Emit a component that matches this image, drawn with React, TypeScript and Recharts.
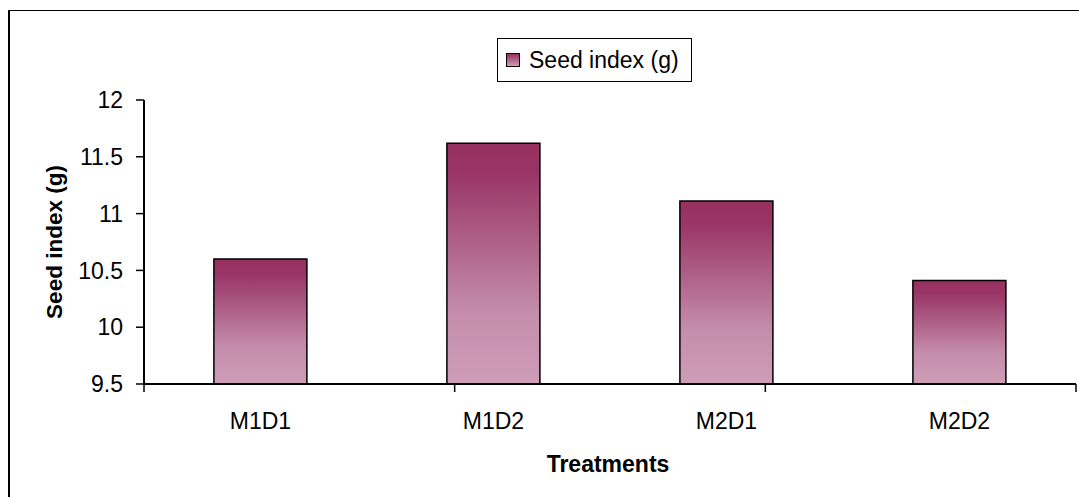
import { BarChart, Bar, XAxis, YAxis, Legend } from 'recharts'

const treatments = ['M1D1', 'M1D2', 'M2D1', 'M2D2']
const seedIndex = [10.6, 11.62, 11.11, 10.41]
const yTicks = [9.5, 10, 10.5, 11, 11.5, 12]
const edgeTicks = [0, 1, 2, 3, 4]

const data = treatments.map((name, i) => ({ name, seed: seedIndex[i] }))

const FONT = '"Liberation Sans", Arial, sans-serif'
const chartMargin = { top: 100, right: 3, bottom: 0, left: 0 }
const tickStyle = { fontSize: 23, fill: '#000', fontFamily: FONT }
const axisLineStyle = { stroke: '#000', strokeWidth: 2 }
const tickLineStyle = { stroke: '#000', strokeWidth: 1.5 }
const blankTick = () => ''

const legendWrap = {
  position: 'absolute' as const, left: 497, top: 38, width: 195, height: 44,
}

function renderLegend() {
  return (
    <div style={{
      display: 'flex', alignItems: 'center', boxSizing: 'border-box',
      width: 195, height: 44, border: '1.5px solid #000', background: '#fff',
      paddingLeft: 8, fontFamily: FONT, fontSize: 23, color: '#000',
    }}>
      <span style={{
        display: 'inline-block', width: 14, height: 14, boxSizing: 'border-box',
        border: '1.5px solid #000', marginRight: 9,
        background: 'linear-gradient(#96305f, #cf9db8)',
      }} />
      <span>Seed index (g)</span>
    </div>
  )
}

function renderYTitle(props: any) {
  const vb = props.viewBox
  const x = vb.x + 62
  const y = vb.y + vb.height / 2
  return (
    <text x={x} y={y} textAnchor="middle" transform={`rotate(-90, ${x}, ${y})`}
      fontFamily={FONT} fontSize={22.5} fontWeight="bold" fill="#000">
      Seed index (g)
    </text>
  )
}

function renderXTitle(props: any) {
  const vb = props.viewBox
  return (
    <text x={vb.x + vb.width / 2 - 2} y={vb.y + 86.5} textAnchor="middle"
      fontFamily={FONT} fontSize={23} fontWeight="bold" fill="#000">
      Treatments
    </text>
  )
}

export default function App() {
  return (
    <div style={{
      position: 'absolute', left: 0, top: 0, width: 1079, height: 497,
      overflow: 'hidden', background: '#fff', fontFamily: FONT,
    }}>
      <div style={{
        position: 'absolute', left: 8, top: 10, width: 1200, height: 600,
        borderLeft: '2px solid #000', borderTop: '1.5px solid #000',
      }} />
      <div style={{ position: 'absolute', left: 0, top: 0 }}>
        <BarChart width={1079} height={497} data={data} margin={chartMargin}
          barCategoryGap="30%">
          <defs>
            <linearGradient id="plumFade" x1="0" y1="0" x2="0" y2="1">
              <stop offset="0" stopColor="#96305f" />
              <stop offset="0.12" stopColor="#993566" />
              <stop offset="0.7" stopColor="#c48dab" />
              <stop offset="1" stopColor="#cf9db8" />
            </linearGradient>
          </defs>
          <XAxis xAxisId="zcat" dataKey="name" height={112} tick={tickStyle}
            axisLine={false} tickLine={false} tickSize={0} tickMargin={28}
            label={renderXTitle} />
          <XAxis xAxisId="bound" type="number" domain={[0, treatments.length]}
            ticks={edgeTicks} tickFormatter={blankTick} height={1} tickSize={8}
            interval={0} axisLine={axisLineStyle} tickLine={tickLineStyle} />
          <YAxis domain={[9.5, 12]} ticks={yTicks} width={144} tick={tickStyle}
            tickSize={8} tickMargin={13} axisLine={axisLineStyle}
            tickLine={tickLineStyle} label={renderYTitle} />
          <Legend layout="horizontal" verticalAlign="middle" align="center"
            wrapperStyle={legendWrap} content={renderLegend} />
          <Bar xAxisId="zcat" dataKey="seed" name="Seed index (g)"
            fill="url(#plumFade)" stroke="#000" strokeWidth={1.5}
            isAnimationActive={false} />
        </BarChart>
      </div>
    </div>
  )
}
